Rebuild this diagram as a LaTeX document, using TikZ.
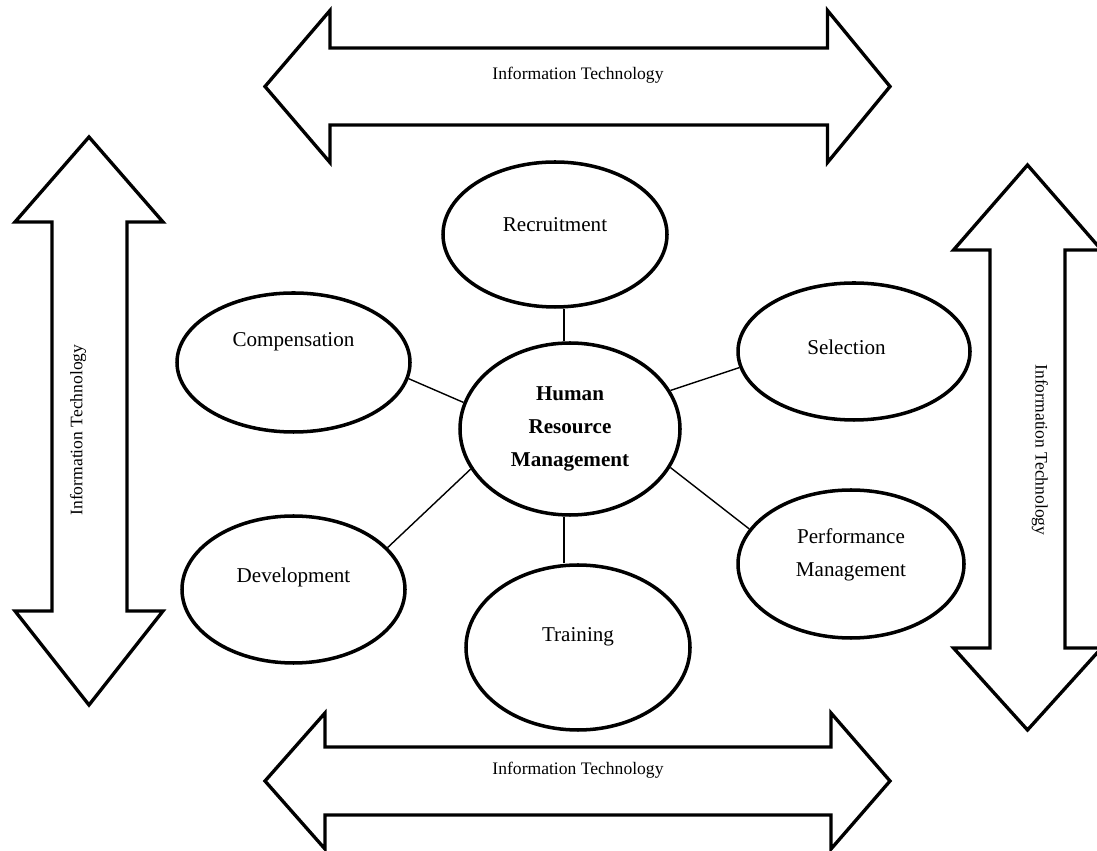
\documentclass[tikz,border=0pt]{standalone}
\usepackage{fontspec}
\setmainfont{Liberation Serif}
\usetikzlibrary{shapes.geometric}
\tikzset{
  itarrow/.style={draw, line width=1.9pt, line join=miter, fill=white},
  ittxt/.style={font=\fontsize{10}{12}\selectfont},
  bubble/.style={ellipse, draw, line width=2pt, inner sep=0pt},
  bubtxt/.style={font=\fontsize{12}{18.7}\selectfont, align=center},
  link/.style={line width=0.8pt}
}
\begin{document}
\begin{tikzpicture}
	\useasboundingbox (0,0) rectangle (21.94,17);
	% top arrow
	\draw[itarrow] (5.30,15.27) -- (6.60,16.79) -- (6.60,16.04) -- (16.55,16.04) -- (16.55,16.79) -- (17.80,15.27)
		-- (16.55,13.75) -- (16.55,14.50) -- (6.60,14.50) -- (6.60,13.75) -- cycle;
	\node[ittxt] (ittop) at (11.56,15.50) {Information Technology};
	% bottom arrow
	\draw[itarrow] (5.30,1.38) -- (6.50,2.74) -- (6.50,2.06) -- (16.62,2.06) -- (16.62,2.74) -- (17.80,1.38)
		-- (16.62,0.02) -- (16.62,0.70) -- (6.50,0.70) -- (6.50,0.02) -- cycle;
	\node[ittxt] (itbot) at (11.56,1.60) {Information Technology};
	% left arrow
	\draw[itarrow] (1.78,14.26) -- (3.26,12.56) -- (2.54,12.56) -- (2.54,4.78) -- (3.26,4.78) -- (1.78,2.90)
		-- (0.30,4.78) -- (1.04,4.78) -- (1.04,12.56) -- (0.30,12.56) -- cycle;
	\node[ittxt, rotate=90] (itleft) at (1.56,8.40) {Information Technology};
	% right arrow
	\draw[itarrow] (20.55,13.70) -- (22.03,12.00) -- (21.30,12.00) -- (21.30,4.04) -- (22.03,4.04) -- (20.55,2.40)
		-- (19.07,4.04) -- (19.80,4.04) -- (19.80,12.00) -- (19.07,12.00) -- cycle;
	\node[ittxt, rotate=-90] (itright) at (20.80,8.00) {Information Technology};
	% bubbles
	\node[bubble, minimum width=4.40cm, minimum height=3.44cm,
		label={[bubtxt, font=\fontsize{12}{18.7}\selectfont\bfseries]center:Human\\Resource\\Management}] (hrm) at (11.40,8.42) {};
	\node[bubble, minimum width=4.48cm, minimum height=2.90cm,
		label={[bubtxt, yshift=1.9mm]center:Recruitment}] (rec) at (11.10,12.31) {};
	\node[bubble, minimum width=4.66cm, minimum height=2.78cm,
		label={[bubtxt, yshift=4.1mm]center:Compensation}] (comp) at (5.87,9.75) {};
	\node[bubble, minimum width=4.64cm, minimum height=2.74cm,
		label={[bubtxt, xshift=-1.5mm, yshift=0.9mm]center:Selection}] (sel) at (17.08,9.97) {};
	\node[bubble, minimum width=4.46cm, minimum height=2.94cm,
		label={[bubtxt, yshift=2.5mm]center:Development}] (dev) at (5.87,5.21) {};
	\node[bubble, minimum width=4.48cm, minimum height=3.30cm,
		label={[bubtxt, yshift=2.1mm]center:Training}] (train) at (11.56,4.05) {};
	\node[bubble, minimum width=4.52cm, minimum height=2.96cm,
		label={[bubtxt, yshift=1.8mm]center:Performance\\Management}] (perf) at (17.02,5.72) {};
	% links
	\draw[link] (hrm.94) -- (rec.south -| hrm.94);
	\draw[link] (hrm.-94) -- (hrm.-94 |- train.north);
	\draw[link] (comp.-8) -- (hrm.166);
	\draw[link] (hrm.21) -- (sel.188);
	\draw[link] (dev.24) -- (hrm.202);
	\draw[link] (hrm.-21) -- (perf.161);
\end{tikzpicture}
\end{document}
